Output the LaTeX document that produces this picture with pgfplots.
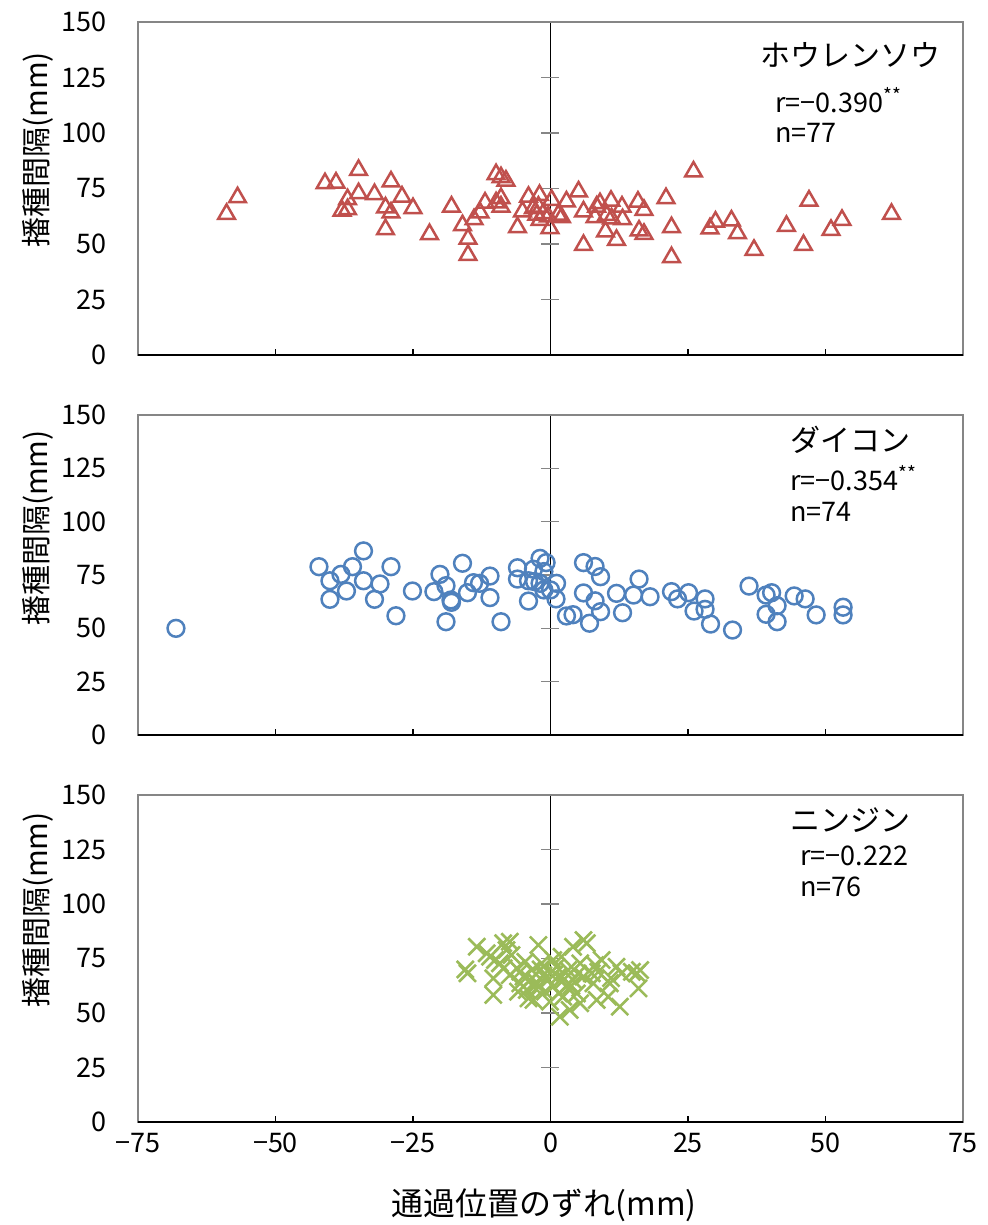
\documentclass[border=0pt]{standalone}
\usepackage{fontspec}
\setmainfont{Noto Sans CJK JP}
\usepackage{pgfplots}
\pgfplotsset{compat=1.18}
\definecolor{cred}{HTML}{C0504D}
\definecolor{cblue}{HTML}{4F81BD}
\definecolor{cgreen}{HTML}{9BBB59}
\definecolor{framec}{HTML}{868686}

\pgfplotsset{
  panel/.style={
    scale only axis, width=412.5pt, anchor=south west,
    xmin=-75, xmax=75, ymin=0, ymax=150,
    xtick={-75,-50,...,75}, ytick={0,25,...,150},
    yticklabels={0,25,50,75,100,125,150},
    axis line style={framec, line width=0.6pt},
    tick align=inside, xtick pos=bottom, ytick pos=left,
    major tick length=3pt,
    x tick style={black, line width=0.6pt},
    y tick style={draw=none},
    tick label style={font=\fontsize{13.5}{16}\selectfont},
    yticklabel style={xshift=-12pt},
    xticklabel style={yshift=-2pt},
    clip=false,
  },
}
\newcommand{\axdeco}{%
  \draw[black, line width=0.7pt] (axis cs:0,0) -- (axis cs:0,150);
  \draw[black, line width=0.8pt] (axis cs:-75,0) -- (axis cs:75,0);
  \pgfplotsinvokeforeach{25,50,75,100,125,150}{\draw[framec, line width=0.6pt] ([xshift=-4.5pt]axis cs:0,##1) -- ([xshift=4.5pt]axis cs:0,##1);}
}

\begin{document}
\begin{tikzpicture}
\useasboundingbox (0,0) rectangle (493.5pt,-612.5pt);

% Panel 1: spinach
\begin{axis}[panel, at={(69pt,-177.5pt)}, height=166.5pt, xticklabels={}]
\axdeco
\addplot[only marks, mark=triangle, mark size=4.8pt, mark options={draw=cred, line width=1.25pt}] coordinates {
(-58.9,63.5) (-56.9,71.0) (-41.0,77.3) (-39.0,77.6) (-34.9,83.3) (-34.9,72.8)
(-36.9,70.1) (-37.9,65.0) (-36.9,65.6) (-32.0,72.4) (-29.0,78.1) (-27.0,71.3)
(-30.0,66.4) (-29.0,64.1) (-30.0,56.6) (-25.0,66.1) (-22.0,54.4) (-18.0,66.8)
(-16.0,58.4) (-15.0,52.3) (-15.0,45.0) (-13.9,61.1) (-12.8,64.1) (-11.9,68.6)
(-9.9,81.4) (-9.0,80.0) (-8.1,78.5) (-9.9,68.7) (-9.0,70.6) (-9.0,66.8)
(-6.0,57.5) (-5.1,64.6) (-4.0,71.2) (-2.0,72.0)
(0.2,69.8) (-3.1,66.1) (-2.2,66.8) (-2.5,63.1) (-1.3,63.8) (-0.4,62.3)
(-1.9,60.8) (1.4,63.1) (-0.1,57.1)
(5.1,73.6) (2.9,69.1) (6.0,64.6) (6.0,49.5) (2.0,62.0) (9.0,68.3) (8.4,66.8)
(11.0,69.4) (13.0,66.8) (8.1,62.0) (10.2,63.0) (11.1,61.5) (13.1,61.1)
(10.0,55.6) (12.0,51.8) (15.9,69.0) (17.0,65.3) (16.1,56.0) (17.0,54.5)
(21.0,70.6) (22.0,57.5) (22.0,44.0) (26.0,82.6) (29.0,57.0) (30.0,60.0)
(32.9,60.5) (34.0,54.8) (37.0,47.3) (42.9,58.1) (46.0,49.5) (47.0,69.5)
(51.0,56.3) (53.0,60.8) (62.0,63.5)
};
\end{axis}

% Panel 2: radish
\begin{axis}[panel, at={(69pt,-367.5pt)}, height=160pt, xticklabels={}]
\axdeco
\addplot[only marks, mark=o, mark size=4.2pt, mark options={draw=cblue, line width=1.25pt}] coordinates {
(-68.1,50.0) (-42.1,78.9) (-40.1,72.3) (-38.1,75.3) (-36.0,78.9) (-34.0,86.3)
(-40.1,63.6) (-37.1,67.5) (-34.0,72.3) (-31.0,70.8) (-32.0,63.6) (-29.0,78.9)
(-28.1,55.9) (-25.1,67.5) (-21.2,67.2) (-20.1,75.3) (-19.0,70.0) (-18.1,63.3)
(-18.0,62.2) (-19.0,53.1) (-16.0,80.5) (-15.1,66.7) (-14.0,71.4) (-12.9,71.1)
(-11.0,74.5) (-11.0,64.4) (-9.0,53.1) (-6.0,78.4) (-6.0,73.1) (-4.0,62.8)
(-4.0,72.3) (-2.9,71.9) (-1.9,82.8) (-0.8,80.8) (-3.1,77.7) (-1.2,76.6)
(-1.9,71.1) (-1.2,68.0) (0.0,68.0) (1.1,71.1) (1.0,63.8) (6.0,80.8)
(8.1,79.0) (9.1,74.2) (6.0,66.6) (8.1,62.9) (9.1,57.8) (2.9,55.8)
(4.1,56.4) (7.1,52.4) (12.0,66.4) (13.1,57.3) (15.1,65.6) (16.1,73.1)
(18.1,64.8) (22.0,67.2) (23.1,63.8) (25.1,66.7) (28.1,63.8) (26.1,58.1)
(28.1,58.9) (29.1,52.0) (33.1,49.2) (36.1,69.8) (39.2,65.6) (40.2,66.7)
(41.2,60.6) (39.2,56.6) (41.2,53.1) (44.3,65.2) (46.3,63.8) (48.3,56.3)
(53.2,59.9) (53.2,56.3)
};
\end{axis}

% Panel 3: carrot
\begin{axis}[panel, at={(69pt,-561pt)}, height=163.5pt,
  xticklabels={−75,−50,−25,0,25,50,75}]
\axdeco
\addplot[only marks, mark=x, mark size=6pt, mark options={draw=cgreen, line width=1.3pt}] coordinates {
(-15.5,70.0) (-15.1,68.2) (-13.4,80.4) (-11.6,77.4) (-10.4,58.3) (-10.4,65.9)
(-11.0,75.8) (-8.6,82.0) (-7.4,82.7) (-8.0,78.9) (-9.2,72.8) (-10.1,74.3)
(-7.4,67.4) (-7.1,76.6) (-6.1,70.5) (-5.5,63.6) (-4.9,66.7) (-4.3,60.6)
(-3.7,65.1) (-3.4,69.7) (-3.1,56.0) (-2.2,81.2) (-2.2,62.1) (-1.6,72.8)
(-1.3,67.4) (-1.0,59.8) (-4.6,73.5) (-5.9,59.8) (-4.0,56.7)
(0.5,74.3) (1.1,71.2) (1.4,66.7) (0.5,62.1) (1.7,48.3) (2.3,57.5)
(2.0,75.8) (3.2,69.7) (4.1,80.4) (3.5,51.4) (4.8,59.0) (4.1,65.1)
(5.4,72.8) (6.0,83.5) (6.6,82.0) (6.0,66.7) (7.8,63.6) (8.1,72.0)
(8.7,68.9) (7.5,68.2) (8.4,56.0) (9.3,74.3) (10.5,57.5) (10.8,63.6)
(12.6,52.9) (12.9,68.2) (12.0,71.2) (14.8,68.9) (15.7,68.2) (16.0,61.3)
(16.3,69.7) (2.9,62.1) (5.4,54.5) (-0.1,68.2) (-0.1,55.2)
(-2.5,64.0) (-0.5,65.0) (0.8,68.0) (2.5,65.5) (-1.8,70.0) (3.8,62.5)
(-3.0,62.0) (1.5,59.0) (-5.5,69.0) (5.0,68.0) (-8.5,70.5) (11.0,66.0)
};
\end{axis}

% axis titles
\node[rotate=90, font=\fontsize{15}{18}\selectfont] at (19pt,-75pt) {播種間隔(mm)};
\node[rotate=90, font=\fontsize{15}{18}\selectfont] at (19pt,-264pt) {播種間隔(mm)};
\node[rotate=90, font=\fontsize{15}{18}\selectfont] at (19pt,-455pt) {播種間隔(mm)};
\node[font=\fontsize{16}{19}\selectfont] at (272pt,-602.5pt) {通過位置のずれ(mm)};

% annotations
\node[anchor=west, inner sep=0pt, font=\fontsize{15}{18}\selectfont] at (380pt,-27.5pt) {ホウレンソウ};
\node[anchor=west, inner sep=0pt, font=\fontsize{13.5}{16}\selectfont] at (387.5pt,-50pt) {r=−0.390\textsuperscript{**}};
\node[anchor=west, inner sep=0pt, font=\fontsize{13.5}{16}\selectfont] at (387.5pt,-66.5pt) {n=77};

\node[anchor=west, inner sep=0pt, font=\fontsize{15}{18}\selectfont] at (395pt,-220pt) {ダイコン};
\node[anchor=west, inner sep=0pt, font=\fontsize{13.5}{16}\selectfont] at (395pt,-239pt) {r=−0.354\textsuperscript{**}};
\node[anchor=west, inner sep=0pt, font=\fontsize{13.5}{16}\selectfont] at (395pt,-256pt) {n=74};

\node[anchor=west, inner sep=0pt, font=\fontsize{15}{18}\selectfont] at (395pt,-410pt) {ニンジン};
\node[anchor=west, inner sep=0pt, font=\fontsize{13.5}{16}\selectfont] at (400pt,-428pt) {r=−0.222};
\node[anchor=west, inner sep=0pt, font=\fontsize{13.5}{16}\selectfont] at (400pt,-443.5pt) {n=76};
\end{tikzpicture}
\end{document}
